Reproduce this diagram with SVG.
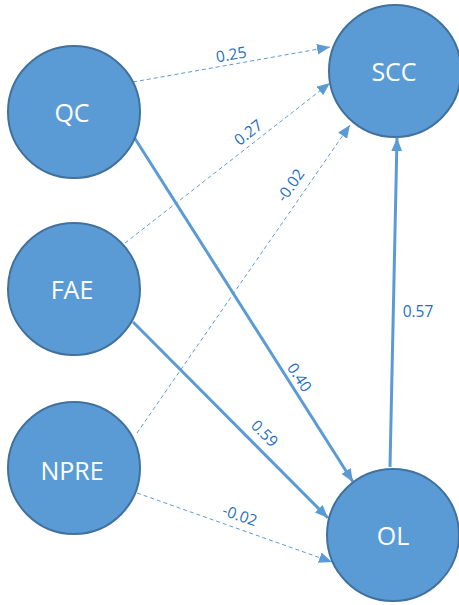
<svg xmlns="http://www.w3.org/2000/svg" width="459" height="605" viewBox="0 0 459 605">
<style>
.node{fill:#5b9bd5;stroke:#41719c;stroke-width:2}
.nt{fill:#ffffff;font-family:"Open Sans","Liberation Sans",sans-serif;font-size:25px;text-anchor:middle;dominant-baseline:central}
.solid{stroke:#5b9bd5;stroke-width:3;fill:none}
.dash{stroke:#5b9bd5;stroke-width:1;stroke-dasharray:4 3;fill:none}
.lbl{fill:#1f6fc0;font-family:"Open Sans","Liberation Sans",sans-serif;font-size:15.5px;text-anchor:middle;dominant-baseline:central}
</style>
<defs>
<marker id="ah" viewBox="0 0 12 10" refX="12" refY="5" markerWidth="13" markerHeight="11" markerUnits="userSpaceOnUse" orient="auto">
<path d="M0,0 L12,5 L0,10 z" fill="#5b9bd5"/>
</marker>
</defs>
<g id="connectors">
<line class="dash" x1="133" y1="82" x2="330" y2="47" marker-end="url(#ah)"/>
<line class="dash" x1="125" y1="243" x2="330" y2="83" marker-end="url(#ah)"/>
<line class="dash" x1="137" y1="433" x2="350" y2="125" marker-end="url(#ah)"/>
<line class="solid" x1="134" y1="137" x2="353" y2="482" marker-end="url(#ah)"/>
<line class="solid" x1="133" y1="322" x2="328" y2="518" marker-end="url(#ah)"/>
<line class="dash" x1="137" y1="493" x2="332" y2="562" marker-end="url(#ah)"/>
<line class="solid" x1="390" y1="467" x2="397" y2="138" marker-end="url(#ah)"/>
<text class="lbl" x="231" y="54" transform="rotate(-10 231 54)">0.25</text>
<text class="lbl" x="248" y="132" transform="rotate(-38 248 132)">0.27</text>
<text class="lbl" x="290" y="185" transform="rotate(-55 290 185)">-0.02</text>
<text class="lbl" x="300" y="377" transform="rotate(57 300 377)">0.40</text>
<text class="lbl" x="265" y="433" transform="rotate(45 265 433)">0.59</text>
<text class="lbl" x="240" y="515" transform="rotate(19 240 515)">-0.02</text>
<text class="lbl" x="418" y="311">0.57</text>
</g>
<g id="QC"><circle class="node" cx="74" cy="112" r="66"/><text class="nt" x="72" y="112">QC</text></g>
<g id="FAE"><circle class="node" cx="74" cy="289" r="66"/><text class="nt" x="72" y="289">FAE</text></g>
<g id="NPRE"><circle class="node" cx="74" cy="468" r="66"/><text class="nt" x="72" y="470">NPRE</text></g>
<g id="SCC"><circle class="node" cx="395" cy="71" r="66"/><text class="nt" x="394" y="71">SCC</text></g>
<g id="OL"><circle class="node" cx="393" cy="535" r="66"/><text class="nt" x="393" y="535">OL</text></g>
</svg>
